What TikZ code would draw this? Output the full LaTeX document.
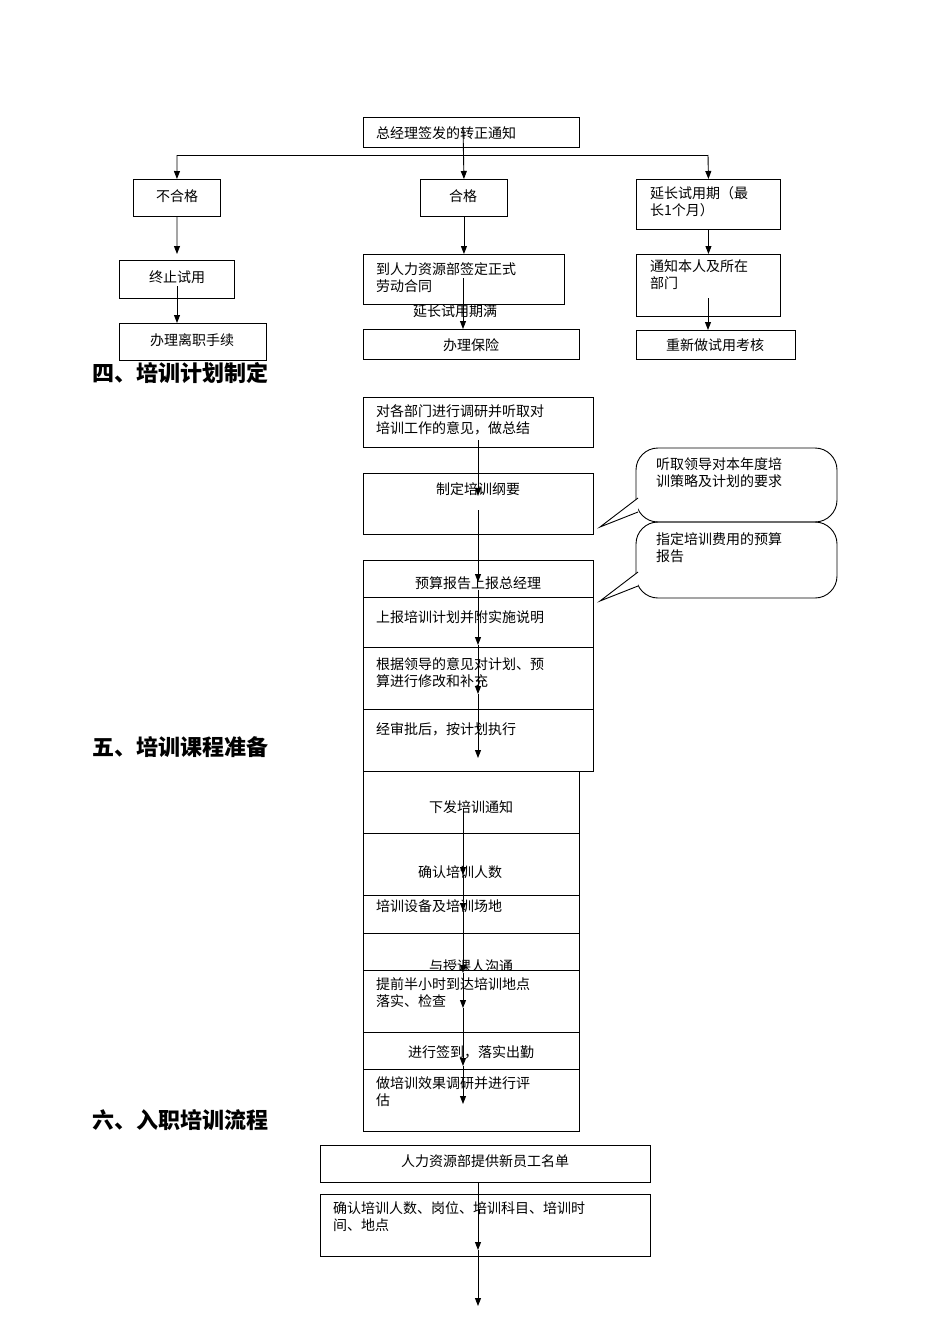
\documentclass[tikz,border=0pt]{standalone}
\usepackage{fontspec}
\setmainfont{Noto Sans CJK SC}
\usetikzlibrary{arrows.meta}
\begin{document}
\begin{tikzpicture}[x=1pt,y=-1pt,
  bx/.style={draw,line width=0.9pt,anchor=north west,inner sep=0pt},
  t/.style={font=\fontsize{14}{17}\selectfont,inner sep=0pt,align=left},
  hd/.style={font=\fontsize{22}{26}\selectfont\bfseries,anchor=west,inner sep=0pt},
  ar/.style={line width=0.9pt,-{Triangle[length=8pt,width=6pt]}},
  ln/.style={line width=0.9pt}]
\useasboundingbox (0,0) rectangle (950,1344);
% ---- top
\node[bx,minimum width=216,minimum height=30] (a0) at (363,117) {};
\node[t,anchor=west] at (376,133) {总经理签发的转正通知};
\node[bx,minimum width=87,minimum height=37] (b1) at (133,179) {};
\node[t] at (177,196) {不合格};
\node[bx,minimum width=87,minimum height=37] (b2) at (420,179) {};
\node[t] at (463,196) {合格};
\node[bx,minimum width=144,minimum height=50] (b3) at (636,179) {};
\node[t,anchor=north west] at (650,186) {延长试用期（最\\长1个月）};
\node[bx,minimum width=115,minimum height=38] (c1) at (119,260) {};
\node[t] at (177,277) {终止试用};
\node[bx,minimum width=147,minimum height=37] (d1) at (119,323) {};
\node[t] at (192,340) {办理离职手续};
\node[bx,minimum width=201,minimum height=50] (c2) at (363,254) {};
\node[t,anchor=north west] at (376,262) {到人力资源部签定正式\\劳动合同};
\node[t] at (455,311) {延长试用期满};
\node[bx,minimum width=216,minimum height=30] (d2) at (363,329) {};
\node[t] at (471,345) {办理保险};
\node[bx,minimum width=144,minimum height=62] (c3) at (636,254) {};
\node[t,anchor=north west] at (650,260) {通知本人及所在\\部门};
\node[bx,minimum width=159,minimum height=29] (d3) at (636,330) {};
\node[t] at (715,345) {重新做试用考核};
\coordinate (s0) at (463,127);
\draw[ar] (s0) -- (b2.north);
\draw[ln] (177,155) -- (708,155);
\draw[ar] (177,155) -- (b1.north);
\draw[ar] (708,155) -- (b3.north);
\draw[ar] (b1.south) -- (177,254);
\draw[ar] (177,286) -- (d1.north -| 177,0);
\draw[ar] (b2.south) -- (c2.north -| b2.south);
\draw[ar] (463,278) -- (463,329);
\draw[ar] (b3.south) -- (c3.north);
\draw[ar] (708,298) -- (d3.north -| 708,0);
\node[hd] at (92,373) {四、培训计划制定};
% ---- section 4
\node[bx,minimum width=230,minimum height=50] (e1) at (363,397) {};
\node[t,anchor=north west] at (376,404) {对各部门进行调研并听取对\\培训工作的意见，做总结};
\node[bx,minimum width=230,minimum height=61] (e2) at (363,473) {};
\node[t] at (478,489) {制定培训纲要};
\node[bx,minimum width=230,minimum height=37] (e3) at (363,560) {};
\node[t] at (478,583) {预算报告上报总经理};
\node[bx,minimum width=230,minimum height=50] (e4) at (363,597) {};
\node[t,anchor=west] at (376,617) {上报培训计划并附实施说明};
\node[bx,minimum width=230,minimum height=62] (e5) at (363,647) {};
\node[t,anchor=north west] at (376,657) {根据领导的意见对计划、预\\算进行修改和补充};
\node[bx,minimum width=230,minimum height=62] (e6) at (363,709) {};
\node[t,anchor=west] at (376,729) {经审批后，按计划执行};
\draw[ar] (478,440) -- (478,496);
\draw[ar] (478,510) -- (478,582);
\draw[ar] (478,590) -- (478,645);
\draw[ar] (478,645) -- (478,694);
\draw[ar] (478,694) -- (478,758);
% callouts
\draw[ln,rounded corners=22pt] (636,448) rectangle (837,522);
\draw[ln,fill=white] (638,498) -- (600,527) -- (638,512);
\node[t,anchor=north west] at (656,457) {听取领导对本年度培\\训策略及计划的要求};
\draw[ln,rounded corners=22pt] (636,522) rectangle (837,598);
\draw[ln,fill=white] (638,572) -- (600,601) -- (638,586);
\node[t,anchor=north west] at (656,532) {指定培训费用的预算\\报告};
\node[hd] at (92,747) {五、培训课程准备};
% ---- section 5
\node[bx,minimum width=216,minimum height=62] (f1) at (363,771) {};
\node[t] at (471,807) {下发培训通知};
\node[bx,minimum width=216,minimum height=62] (f2) at (363,833) {};
\node[t] at (460,872) {确认培训人数};
\node[bx,minimum width=216,minimum height=38] (f3) at (363,895) {};
\node[t,anchor=west] at (376,906) {培训设备及培训场地};
\node[bx,minimum width=216,minimum height=37] (f4) at (363,933) {};
\begin{scope}
\clip (363,933) rectangle (579,970);
\node[t] at (471,966) {与授课人沟通};
\end{scope}
\node[bx,minimum width=216,minimum height=62,fill=none] (f5) at (363,970) {};
\node[t,anchor=north west] at (376,977) {提前半小时到达培训地点\\落实、检查};
\node[bx,minimum width=216,minimum height=37] (f6) at (363,1032) {};
\node[t] at (471,1052) {进行签到，落实出勤};
\node[bx,minimum width=216,minimum height=62] (f7) at (363,1069) {};
\node[t,anchor=north west] at (376,1076) {做培训效果调研并进行评\\估};
\draw[ar] (463,810) -- (463,875);
\draw[ar] (463,875) -- (463,911);
\draw[ar] (463,911) -- (463,973);
\draw[ar] (463,973) -- (463,1008);
\draw[ar] (463,1008) -- (463,1066);
\draw[ar] (463,1066) -- (463,1104);
\node[hd] at (92,1120) {六、入职培训流程};
% ---- section 6
\node[bx,minimum width=330,minimum height=37] (g1) at (320,1145) {};
\node[t] at (485,1161) {人力资源部提供新员工名单};
\node[bx,minimum width=330,minimum height=62] (g2) at (320,1194) {};
\node[t,anchor=north west] at (333,1201) {确认培训人数、岗位、培训科目、培训时\\间、地点};
\draw[ar] (g1.south -| 478,0) -- (478,1250);
\draw[ar] (478,1250) -- (478,1306);
\end{tikzpicture}
\end{document}
